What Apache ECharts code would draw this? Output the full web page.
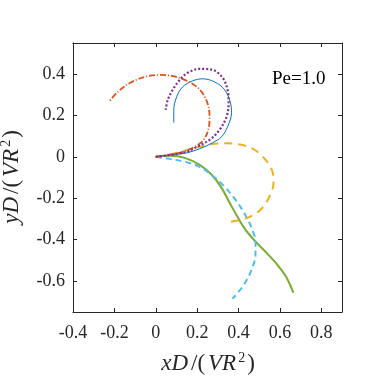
<!DOCTYPE html>
<html><head><meta charset="utf-8">
<script src="https://cdn.jsdelivr.net/npm/echarts@6/dist/echarts.min.js"></script>
<style>html,body{margin:0;padding:0;background:#fff}#c{width:379px;height:379px}</style>
</head><body><div id="c"></div>
<script>
const xTicks = [-0.4, -0.2, 0, 0.2, 0.4, 0.6, 0.8];
const yTicks = [-0.6, -0.4, -0.2, 0, 0.2, 0.4];
const annotation = 'Pe=1.0';

const blueCurve = [[0,0],[0.077,0.010],[0.149,0.019],[0.212,0.039],[0.275,0.068],[0.318,0.097],[0.347,0.145],[0.366,0.213],[0.361,0.261],[0.333,0.324],[0.284,0.362],[0.227,0.377],[0.178,0.367],[0.130,0.338],[0.101,0.290],[0.087,0.227],[0.087,0.164]];
const orangeCurve = [[0,0],[0.067,0.010],[0.130,0.024],[0.188,0.048],[0.227,0.077],[0.251,0.121],[0.260,0.179],[0.255,0.242],[0.231,0.300],[0.198,0.338],[0.140,0.372],[0.077,0.391],[0.019,0.396],[-0.053,0.386],[-0.125,0.357],[-0.183,0.314],[-0.222,0.271]];
const yellowCurve = [[0,0],[0.067,0.010],[0.140,0.029],[0.212,0.048],[0.284,0.063],[0.347,0.065],[0.414,0.058],[0.477,0.034],[0.530,-0.014],[0.564,-0.072],[0.569,-0.126],[0.549,-0.193],[0.506,-0.256],[0.443,-0.295],[0.361,-0.314]];
const purpleCurve = [[0,0],[0.077,0.010],[0.149,0.024],[0.198,0.048],[0.260,0.082],[0.308,0.130],[0.342,0.193],[0.352,0.261],[0.347,0.324],[0.323,0.382],[0.275,0.420],[0.212,0.425],[0.154,0.406],[0.116,0.372],[0.082,0.324],[0.058,0.275],[0.048,0.227]];
const greenCurve = [[0,0],[0.067,0.005],[0.140,-0.005],[0.212,-0.039],[0.270,-0.087],[0.318,-0.150],[0.357,-0.222],[0.395,-0.290],[0.434,-0.353],[0.487,-0.415],[0.540,-0.469],[0.588,-0.522],[0.627,-0.575],[0.651,-0.623],[0.665,-0.657]];
const lightBlueCurve = [[0,0],[0.067,-0.010],[0.140,-0.024],[0.212,-0.048],[0.275,-0.092],[0.333,-0.145],[0.386,-0.208],[0.429,-0.275],[0.463,-0.343],[0.482,-0.411],[0.482,-0.473],[0.463,-0.546],[0.429,-0.614],[0.400,-0.652],[0.371,-0.686]];

const FONT = '"Liberation Serif","DejaVu Serif",serif';
const axisLine = {show:true, onZero:false, lineStyle:{color:'#262626', width:1}};
const tick = {show:true, inside:true, length:4, lineStyle:{color:'#262626', width:1}};
const nameRich = {
  i:{fontFamily:FONT, fontStyle:'italic', fontSize:23, color:'#262626', padding:[0,2,0,2]},
  n:{fontFamily:FONT, fontSize:23, color:'#262626', padding:[0,1,0,1]},
  s:{fontFamily:FONT, fontSize:14, color:'#262626', padding:[0,1,12,0]}
};

function line(data, color, width, type, z){
  return {type:'line', data, showSymbol:false, smooth:0.35, z:z||2,
    lineStyle:{color, width, type}, xAxisIndex:0, yAxisIndex:0, animation:false};
}

const chart = echarts.init(document.getElementById('c'), null, {renderer:'canvas'});
chart.setOption({
  backgroundColor:'#fff',
  animation:false,
  grid:{left:73, top:43, width:269, height:269, containLabel:false, outerBoundsMode:'none'},
  xAxis:[
    {type:'value', min:-0.4, max:0.9, interval:0.2, position:'bottom',
     axisLine, axisTick:{...tick, customValues:xTicks}, splitLine:{show:false},
     axisLabel:{customValues:xTicks, fontFamily:FONT, fontSize:18, color:'#262626', margin:12,
       formatter:v=>String(Math.round(v*10)/10)},
     name:'{i|xD}{n|/(}{i|VR}{s|2}{n|)}', nameLocation:'middle', nameGap:39,
     nameTextStyle:{rich:nameRich}},
    {type:'value', min:-0.4, max:0.9, interval:0.2, position:'top',
     axisLine, axisTick:{...tick, customValues:xTicks}, axisLabel:{show:false}, splitLine:{show:false}}
  ],
  yAxis:[
    {type:'value', min:-0.75, max:0.55, position:'left',
     axisLine, axisTick:{...tick, customValues:yTicks}, splitLine:{show:false},
     axisLabel:{customValues:yTicks, fontFamily:FONT, fontSize:18, color:'#262626', margin:8,
       formatter:v=>String(Math.round(v*10)/10)},
     name:'{i|yD}{n|/(}{i|VR}{s|2}{n|)}', nameLocation:'middle', nameGap:48, nameRotate:90,
     nameTextStyle:{rich:nameRich}},
    {type:'value', min:-0.75, max:0.55, position:'right',
     axisLine, axisTick:{...tick, customValues:yTicks}, axisLabel:{show:false}, splitLine:{show:false}}
  ],
  series:[
    line(greenCurve, '#77AC30', 2, 'solid', 2),
    line(lightBlueCurve, '#4DBEEE', 2, [6,4], 3),
    line(yellowCurve, '#EDB120', 2, [8,6], 3),
    line(blueCurve, '#0072BD', 1, 'solid', 4),
    line(orangeCurve, '#D95319', 1.8, [6,2,1,2], 5),
    line(purpleCurve, '#7E2F8E', 2.2, [2,2], 6)
  ],
  graphic:[{type:'text', left:272, top:70, style:{text:annotation, font:'19px '+FONT, fill:'#000'}}]
});
</script></body></html>
